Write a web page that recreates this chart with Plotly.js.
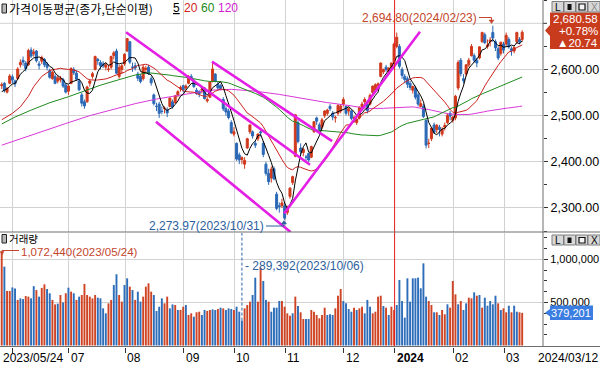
<!DOCTYPE html>
<html><head><meta charset="utf-8">
<script src="https://cdn.plot.ly/plotly-3.0.1.min.js"></script>
<style>html,body{margin:0;padding:0;background:#fff;overflow:hidden}</style>
</head><body><div id="chart" style="width:600px;height:366px"></div>
<script>
// ---------- data ----------
const openP = [2565,2570,2551,2570,2584, 2575,2580,2610,2620,2614, 2610,2642,2634,2640,2612, 2618,2622,2612,2598,2580,
 2585,2575,2578,2578,2566, 2553,2570,2600,2592,2575, 2545,2530,2530,2570,2585, 2600,2622,2615,2612,2605,
 2600,2605,2630,2640,2585, 2600,2612,2640,2660,2605, 2608,2590,2585,2580,2600, 2605,2580,2545,2520,2525,
 2510,2515,2512,2520,2530, 2528,2545,2558,2565,2560, 2570,2585,2575,2555,2552, 2555,2560,2532,2540,2575,
 2590,2568,2565,2535,2515, 2510,2485,2460,2440,2415, 2405,2395,2430,2465,2465, 2440,2450,2465,2440,2395,
 2375,2365,2385,2330,2305, 2305,2305,2290,2325,2355, 2412,2485,2430,2420,2410, 2418,2410,2465,2495,2480,
 2475,2500,2505,2520,2505, 2495,2505,2510,2525,2520, 2510,2510,2495,2485,2495, 2520,2530,2525,2525,2550,
 2555,2565,2585,2595,2605, 2595,2605,2615,2650,2650, 2600,2585,2580,2570,2555, 2560,2545,2520,2520,2490,
 2440,2450,2480,2470,2475, 2460,2475,2485,2505,2490, 2495,2560,2620,2580,2590, 2610,2630,2630,2620,2625,
 2660,2675,2650,2660,2680, 2660,2645,2635,2655,2655, 2665,2645,2640,2660,2665,2665];
const highP = [2572,2573,2562,2590,2589, 2578,2605,2622,2628,2618, 2645,2648,2645,2642,2618, 2630,2625,2616,2602,2598,
 2590,2588,2586,2582,2570, 2567,2605,2605,2598,2580, 2550,2535,2565,2578,2595, 2630,2625,2620,2618,2615,
 2610,2630,2640,2645,2610, 2612,2635,2668,2662,2615, 2615,2595,2590,2610,2608, 2610,2585,2548,2528,2530,
 2520,2520,2518,2540,2535, 2545,2555,2565,2567,2568, 2588,2590,2580,2560,2555, 2560,2562,2540,2575,2615,
 2592,2575,2568,2540,2520, 2515,2490,2475,2442,2420, 2412,2410,2452,2480,2468, 2445,2462,2470,2445,2400,
 2385,2390,2390,2335,2312, 2320,2310,2305,2345,2370, 2502,2490,2440,2430,2415, 2420,2435,2488,2498,2485,
 2495,2512,2515,2525,2510, 2500,2525,2525,2540,2522, 2518,2512,2500,2495,2520, 2530,2540,2528,2548,2565,
 2570,2572,2615,2602,2610, 2605,2615,2658,2680,2655, 2605,2590,2585,2575,2565, 2565,2550,2535,2525,2492,
 2450,2475,2485,2482,2480, 2475,2485,2505,2510,2500, 2545,2620,2625,2590,2612, 2625,2655,2635,2625,2650,
 2682,2680,2665,2670,2694.80, 2665,2650,2660,2660,2680, 2670,2650,2650,2682,2670,2685];
const lowP = [2558,2550,2548,2568,2570, 2562,2578,2604,2608,2596, 2608,2625,2628,2615,2600, 2612,2605,2598,2580,2578,
 2568,2570,2572,2560,2548, 2545,2568,2588,2575,2553, 2520,2515,2528,2563,2580, 2598,2610,2600,2603,2598,
 2595,2600,2622,2590,2580, 2590,2608,2638,2612,2595, 2598,2575,2570,2576,2592, 2588,2565,2522,2510,2495,
 2503,2505,2497,2518,2515, 2526,2540,2552,2550,2555, 2568,2578,2560,2545,2540, 2548,2535,2528,2538,2572,
 2572,2555,2555,2510,2500, 2492,2460,2455,2402,2395, 2395,2385,2428,2460,2450, 2430,2445,2455,2410,2370,
 2350,2355,2360,2295,2290, 2300,2273.97,2285,2320,2350, 2410,2440,2415,2412,2400, 2400,2408,2463,2480,2465,
 2470,2495,2500,2510,2490, 2485,2500,2505,2520,2500, 2500,2490,2485,2480,2492, 2515,2525,2505,2522,2548,
 2550,2555,2583,2590,2595, 2590,2600,2612,2646,2602, 2580,2570,2560,2555,2548, 2535,2520,2518,2495,2429,
 2430,2445,2460,2462,2455, 2455,2468,2482,2490,2485, 2490,2555,2585,2570,2585, 2605,2628,2615,2605,2622,
 2658,2655,2645,2650,2660, 2640,2620,2630,2635,2650, 2645,2630,2635,2655,2655,2660];
const closeP = [2567,2555,2559,2586,2577, 2569,2601,2615,2616,2602, 2641,2629,2638,2619,2609, 2626,2610,2605,2583,2594,
 2570,2582,2581,2564,2551, 2564,2602,2593,2579,2556, 2527,2521,2562,2575,2591, 2628,2619,2608,2608,2610,
 2601,2628,2636,2592,2604, 2608,2633,2667,2616,2605, 2603,2581,2574,2605,2602, 2591,2571,2526,2520,2505,
 2509,2516,2506,2538,2519, 2543,2552,2561,2556,2564, 2585,2582,2563,2548,2548, 2557,2537,2535,2573,2601,
 2575,2560,2559,2515,2508, 2496,2463,2465,2406,2404, 2409,2403,2450,2480,2456, 2436,2460,2463,2416,2375,
 2357,2384,2363,2299,2303, 2311,2278,2302,2343,2368, 2502,2444,2422,2427,2410, 2404,2433,2487,2488,2470,
 2491,2510,2512,2515,2497, 2496,2522,2521,2535,2505, 2515,2494,2495,2492,2518, 2525,2535,2511,2544,2564,
 2567,2569,2614,2600,2600, 2603,2614,2655,2670,2607, 2587,2578,2568,2561,2563, 2540,2525,2526,2498,2436,
 2440,2473,2464,2479,2470, 2470,2479,2501,2499,2497, 2542,2615,2591,2576,2610, 2620,2650,2620,2614,2649,
 2680,2658,2653,2664,2668, 2647,2625,2659,2642,2674, 2649,2641,2648,2680,2659.84,2680.58];
const volume = [1072440,917000,634000,634000,675000, 663000,530000,548000,540000,575000, 568000,548000,690000,645000,568000, 670000,711000,657000,607000,530000,
 478000,486000,587000,501000,607000, 672000,626000,607000,530000,568000, 587000,716000,587000,568000,548000, 587000,556000,548000,432000,374000,
 490000,530000,703000,828000,587000, 510000,703000,781000,684000,645000, 530000,626000,510000,568000,684000, 723000,626000,587000,401000,451000,
 548000,490000,568000,432000,478000, 471000,413000,413000,451000,471000, 355000,374000,335000,386000,393000, 355000,413000,401000,413000,420000,
 413000,424000,440000,432000,413000, 432000,424000,413000,451000,393000, 289392,432000,471000,510000,587000, 789000,510000,905000,750000,530000,
 510000,393000,440000,440000,518000, 518000,451000,374000,347000,374000, 568000,460000,386000,308000,308000, 308000,413000,393000,355000,316000,
 355000,440000,355000,363000,355000, 432000,579000,657000,517000,490000, 424000,393000,440000,413000,432000, 451000,374000,530000,451000,374000,
 393000,568000,579000,459000,440000, 355000,451000,413000,471000,762000, 517000,324000,781000,510000,781000, 781000,789000,665000,955000,568000,
 517000,471000,386000,386000,355000, 413000,363000,479000,440000,750000, 595000,479000,517000,413000,490000, 556000,548000,618000,579000,587000,
 440000,556000,463000,517000,479000, 579000,490000,413000,432000,386000, 463000,386000,463000,393000,386000,379201];
const volumeRed = [1,0,1,1,0,0,1,0,0,1, 1,0,0,1,0,1,1,0,0,1, 1,0,1,0,1,0,1,0,1,0, 1,1,1,1,1,1,0,0,0,0,
 1,1,0,0,1,1,0,0,1,0, 1,0,0,1,1,1,1,0,0,0, 0,1,1,0,0,1,0,1,1,0, 1,1,0,1,1,0,0,1,1,0,
 0,1,0,1,0,0,0,1,0,0, 0,1,1,1,0,0,1,1,0,0, 1,0,0,0,0,1,1,1,1,0, 1,0,1,1,0,0,1,1,1,1,
 1,1,0,0,0,1,1,1,0,0, 0,0,1,0,1,1,0,0,0,1, 1,1,1,0,1,0,1,1,0,0, 0,0,0,0,0,0,0,0,0,0,
 1,1,0,1,0,1,1,0,1,1, 1,0,1,0,0,1,1,0,1,0, 1,0,0,0,0,0,1,0,1,1, 0,1,0,0,1,1];
// first bar index of each month (06 .. 03)
const monthStart = [5,26,47,69,88,107,129,148,170,189];
const monthLabels = ['','07','08','09','10','11','12','2024','02','03'];
const firstDate = '2023/05/24', lastDate = '2024/03/12';
const maxHighDate = '2024/02/23', minLowDate = '2023/10/31';
const maxVolDate = '2023/05/24', minVolDate = '2023/10/06';
// price / volume axis ticks
const priceTicks = [2300,2400,2500,2600];
const priceGridTop = 2700;
const volTicks = [500000,1000000];
const ma5EarlyIdx = [0,1,2,3], ma5EarlyVal = [2552,2555,2558,2563];
const ma20EarlyIdx = [0,4,7,10,12,15,18], ma20EarlyVal = [2491,2505,2519,2542,2563,2585,2597];
const ma60EarlyIdx = [0,5,11,18,25,32,37,44,50,55], ma60EarlyVal = [2482,2497,2512,2528,2541,2556,2566,2578,2588,2593];
const ma120EarlyIdx = [0,8,16,24,33,41,50,58,68,78,86,95,104,112];
const ma120EarlyVal = [2436,2452,2468,2483,2500,2513,2526,2536,2546,2555,2557,2553,2546,2538];
// drawn trend lines: [bar index, price] -> [bar index, price]
const trendLines = [[46.6,2680.6,115.5,2393.6],[78.8,2616.9,123.8,2445],[57.8,2486.9,108.2,2248],[105.8,2288,156.7,2681.9]];

// ---------- styling ----------
const RED='#d0391c', BLUE='#2b69b6', GRID='#d2d2d2';
const NUM='Liberation Sans, Arial, sans-serif', KOR='Noto Sans CJK KR, sans-serif';
const PW=543, PH=347;
const px = p => p/PW, py = p => (PH-p)/PH;
const xs = closeP.map((_, i) => i);

function maLine(eIdx, eVal, n){
  const x = eIdx.slice(), y = eVal.slice();
  for (let i=n-1;i<closeP.length;i++){ let s=0; for(let k=i-n+1;k<=i;k++) s+=closeP[k]; x.push(i); y.push(s/n); }
  return {x, y};
}
const m5=maLine(ma5EarlyIdx,ma5EarlyVal,5), m20=maLine(ma20EarlyIdx,ma20EarlyVal,20),
      m60=maLine(ma60EarlyIdx,ma60EarlyVal,60), m120=maLine(ma120EarlyIdx,ma120EarlyVal,120);

const fmt2 = v => v.toLocaleString('en-US',{minimumFractionDigits:2,maximumFractionDigits:2});
const fmt0 = v => Math.round(v).toLocaleString('en-US');

const traces = [
  {type:'candlestick', x:xs, open:openP, high:highP, low:lowP, close:closeP, xaxis:'x', yaxis:'y',
   increasing:{line:{color:RED,width:1}, fillcolor:RED}, decreasing:{line:{color:BLUE,width:1}, fillcolor:BLUE},
   whiskerwidth:0, hoverinfo:'skip'},
  {type:'scatter', mode:'lines', x:m120.x, y:m120.y, line:{color:'#d838d8',width:1}, xaxis:'x', yaxis:'y', hoverinfo:'skip'},
  {type:'scatter', mode:'lines', x:m60.x, y:m60.y, line:{color:'#1f8a1f',width:1}, xaxis:'x', yaxis:'y', hoverinfo:'skip'},
  {type:'scatter', mode:'lines', x:m20.x, y:m20.y, line:{color:'#cc2222',width:1}, xaxis:'x', yaxis:'y', hoverinfo:'skip'},
  {type:'scatter', mode:'lines', x:m5.x, y:m5.y, line:{color:'#000000',width:1}, xaxis:'x', yaxis:'y', hoverinfo:'skip'},
  {type:'bar', x:xs, y:volume, width:0.72, marker:{color:volumeRed.map(r=>r?'#cf4424':'#2d6db9'), line:{width:0}},
   xaxis:'x2', yaxis:'y2', hoverinfo:'skip'}
];

const gridX = monthStart.map(i => i-0.8);
const xr = [-0.64, 202.8];
const priceMin = 2248, priceMax = 2750.5;
const volMin = -17400, volMax = 1308000;

const maxH = Math.max(...highP);
const minL = Math.min(...lowP);
const maxV = Math.max(...volume), minV = Math.min(...volume), minVi = volume.indexOf(minV);
const last = closeP[closeP.length-1], prev = closeP[closeP.length-2];
const chg = last-prev, pct = chg/prev*100;

const shapes = [];
const line = (x0,y0,x1,y1,color,width,dash) => shapes.push({type:'line',xref:'paper',yref:'paper',x0:px(x0),y0:py(y0),x1:px(x1),y1:py(y1),line:{color,width,dash:dash||'solid'},layer:'above'});
const path = (pts,fill,lc,lw) => shapes.push({type:'path',xref:'paper',yref:'paper',
   path:'M '+pts.map(p=>px(p[0])+','+py(p[1])).join(' L ')+(fill?' Z':''), fillcolor:fill||'rgba(0,0,0,0)', line:{color:lc||'rgba(0,0,0,0)',width:lw||0}, layer:'above'});
const rect = (x0,y0,x1,y1,fill,lc,lw) => shapes.push({type:'rect',xref:'paper',yref:'paper',x0:px(x0),y0:py(y0),x1:px(x1),y1:py(y1),fillcolor:fill,line:{color:lc||'rgba(0,0,0,0)',width:lw||0},layer:'above'});

// top price grid line (its label sits under the price box)
shapes.push({type:'line',xref:'paper',yref:'y',x0:0,x1:1,y0:priceGridTop,y1:priceGridTop,line:{color:GRID,width:1},layer:'below'});
shapes.push({type:'line',xref:'paper',yref:'y',x0:1,x1:px(547),y0:priceGridTop,y1:priceGridTop,line:{color:'#333',width:1},layer:'above'});
// trend lines
trendLines.forEach(t => shapes.push({type:'line',xref:'x',yref:'y',x0:t[0],y0:t[1],x1:t[2],y1:t[3],line:{color:'#e41ee4',width:2.6},layer:'above'}));
// year line
shapes.push({type:'line',xref:'x',yref:'paper',x0:monthStart[7]-0.8,x1:monthStart[7]-0.8,y0:0,y1:1,line:{color:'#e8211e',width:1},layer:'above'});
// dashed marker for min volume
shapes.push({type:'line',xref:'x2',yref:'y2',x0:minVi,x1:minVi,y0:minV,y1:volMax,line:{color:'#2e63a8',width:1,dash:'3px,2px'},layer:'above'});
// frame lines
line(0,232,600,232,'#6e6e6e',1);
line(0,346.5,600,346.5,'#6e6e6e',1);
line(543,0,543,347,'#6e6e6e',1);
// max price arrow
path([[479,17.5],[491.5,17.5],[491.5,21]],null,'#c4452c',1);
path([[489,20],[494,20],[491.5,23.5]],'#c4452c','#c4452c',0.5);
// min price arrow
path([[266,226],[284,226],[284,223]],null,'#2e5f9e',1);
path([[281.5,224],[286.5,224],[284,220.5]],'#2e5f9e','#2e5f9e',0.5);
// max volume arrow
path([[19,250.5],[2,250.5],[2,252]],null,'#c4452c',1);
path([[0,251.5],[4,251.5],[2,255]],'#c4452c','#c4452c',0.5);
// price box
path([[550,12.5],[600,12.5],[600,49],[550,49],[550,36],[545,30.5],[550,25]],'#c93b1d');
// volume box
path([[550,305.5],[593,305.5],[593,320],[550,320],[550,316.5],[545,312.8],[550,309]],'#3b7de0');
// buttons
[[1.5,12],[235,245]].forEach(([t,b]) => {
  [[552,563.5],[564,575.5],[576,587.5],[588,600]].forEach(([l,r]) => rect(l,t,r,b,'#d8d8d8','#7c7c7c',1));
  rect(567.5,t+2.5,571.5,b-2,'#111');
  rect(579,t+2.5,585,b-2,'#f4f4f4','#111',1.2);
});
// small panel icons
rect(2,4,6.5,13,'#b8b8b8','#222',1);
rect(2,234.5,6.5,243,'#b8b8b8','#222',1);

const ann = [];
const txt = (x,y,text,opts) => ann.push(Object.assign({xref:'paper',yref:'paper',x:px(x),y:py(y),text,showarrow:false,
   xanchor:'left',yanchor:'middle',borderpad:0,font:{family:NUM,size:12,color:'#000'}},opts||{}));
txt(8,8.5,'가격이동평균(종가,단순이평)',{font:{family:KOR,size:12,color:'#000'}});
txt(171.5,8.5,'<u>5</u>',{font:{family:NUM,size:12,color:'#000'}});
txt(183,8.5,'20',{font:{family:NUM,size:12,color:'#d02020'}});
txt(200,8.5,'60',{font:{family:NUM,size:12,color:'#1a8a1a'}});
txt(216.5,8.5,'120',{font:{family:NUM,size:12,color:'#d020d0'}});
txt(8,238,'거래량',{font:{family:KOR,size:10.5,color:'#000'}});
txt(478,17.5,fmt2(maxH)+'('+maxHighDate+')',{xanchor:'right',font:{family:NUM,size:12,color:'#c4452c'}});
txt(265,225.5,fmt2(minL)+'('+minLowDate+')',{xanchor:'right',font:{family:NUM,size:12,color:'#2e5f9e'}});
txt(20,252.3,fmt0(maxV)+'('+maxVolDate+')',{font:{family:NUM,size:11.5,color:'#c4452c'}});
txt(244,265.5,'- '+fmt0(minV)+'('+minVolDate+')',{font:{family:NUM,size:12,color:'#2e5f9e'}});
txt(599,18.8,fmt2(last),{xanchor:'right',font:{family:NUM,size:11.5,color:'#fff'}});
txt(599,30.8,(chg>=0?'+':'')+pct.toFixed(2)+'%',{xanchor:'right',font:{family:NUM,size:11.5,color:'#fff'}});
txt(599,42.8,'▲'+chg.toFixed(2),{xanchor:'right',font:{family:NUM,size:11.5,color:'#fff'}});
txt(592,313,fmt0(volume[volume.length-1]),{xanchor:'right',font:{family:NUM,size:11,color:'#fff'}});
txt(557.8,7,'L',{xanchor:'center',font:{family:NUM,size:10,color:'#000'}});
txt(594,7,'X',{xanchor:'center',font:{family:NUM,size:10,color:'#8a8a8a'}});
txt(557.8,240.3,'L',{xanchor:'center',font:{family:NUM,size:10,color:'#000'}});
txt(594,240.3,'X',{xanchor:'center',font:{family:NUM,size:10,color:'#000'}});
// x labels
txt(1.5,357.5,firstDate);
txt(599,357.5,lastDate,{xanchor:'right'});
monthStart.forEach((m,i) => { if (monthLabels[i]) ann.push({xref:'x2',yref:'paper',x:m-0.8,y:py(357.5),xshift:1,text:monthLabels[i]==='2024'?'<b>2024</b>':monthLabels[i],
  showarrow:false,xanchor:'left',yanchor:'middle',borderpad:0,font:{family:NUM,size:12,color:'#000'}}); });

const minorPrice = [2250,2350,2450,2550,2650,2750];
const minorVol = [125000,250000,375000,625000,750000,875000,1125000,1250000];
const layout = {
  width:600, height:366, margin:{l:0,r:57,t:0,b:19,pad:0},
  paper_bgcolor:'#fff', plot_bgcolor:'#fff', showlegend:false, hovermode:false, dragmode:false,
  boxgap:0.25, boxgroupgap:0,
  xaxis:{domain:[0,1], range:xr, anchor:'y', tickvals:gridX, showticklabels:false, ticks:'', showgrid:true, gridcolor:GRID, gridwidth:1,
         zeroline:false, showline:false, rangeslider:{visible:false}, fixedrange:true},
  xaxis2:{domain:[0,1], range:xr, anchor:'y2', tickvals:gridX, showticklabels:false, ticks:'outside', ticklen:5, tickcolor:'#333', tickwidth:1,
         showgrid:true, gridcolor:GRID, gridwidth:1, zeroline:false, showline:false, fixedrange:true},
  yaxis:{domain:[py(232),1], range:[priceMin,priceMax], side:'right', anchor:'x', tickvals:priceTicks, tickformat:',.2f',
         ticks:'outside', ticklen:4, tickcolor:'#333', tickfont:{family:NUM,size:12.5,color:'#000'}, showgrid:true, gridcolor:GRID,
         zeroline:false, showline:false, fixedrange:true,
         minor:{tickvals:minorPrice, ticks:'outside', ticklen:3, tickcolor:'#333', showgrid:false}},
  yaxis2:{domain:[0,py(233)], range:[volMin,volMax], side:'right', anchor:'x2', tickvals:volTicks, tickformat:',',
         ticks:'outside', ticklen:4, tickcolor:'#333', tickfont:{family:NUM,size:11,color:'#000'}, showgrid:true, gridcolor:GRID,
         zeroline:false, showline:false, fixedrange:true,
         minor:{tickvals:minorVol, ticks:'outside', ticklen:3, tickcolor:'#333', showgrid:false}},
  shapes, annotations:ann
};
Plotly.newPlot('chart', traces, layout, {staticPlot:true, displayModeBar:false});
</script></body></html>
